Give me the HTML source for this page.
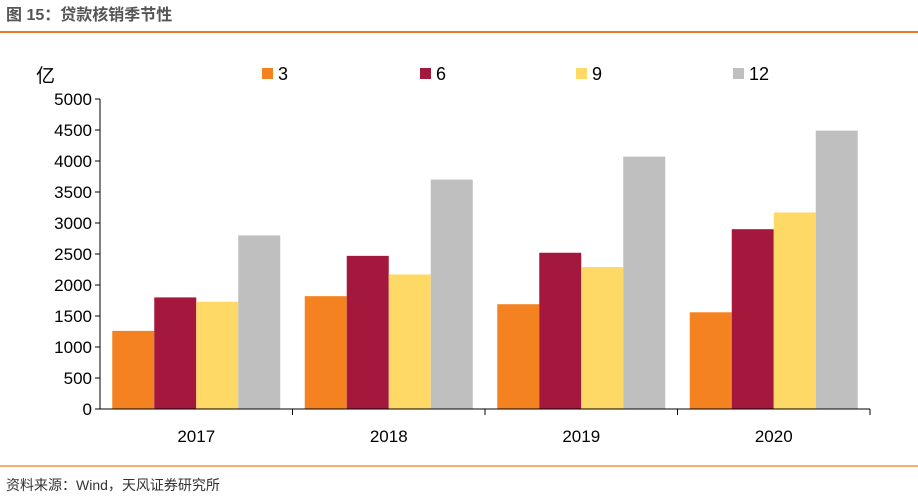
<!DOCTYPE html>
<html><head><meta charset="utf-8"><style>
body{margin:0;background:#fff;width:918px;height:496px;overflow:hidden;font-family:"Liberation Sans","Noto Sans CJK SC",sans-serif}
</style></head><body>
<svg id="c" width="918" height="496" xmlns="http://www.w3.org/2000/svg">
<text x="6" y="20" font-size="16" font-weight="bold" fill="#555" font-family="Liberation Sans, Noto Sans CJK SC, sans-serif">图 15：贷款核销季节性</text>
<line x1="0" y1="32" x2="918" y2="32" stroke="#E87722" stroke-width="2"/>
<line x1="0" y1="466" x2="918" y2="466" stroke="#F0963C" stroke-width="1.5"/>
<text x="6" y="490" font-size="14" fill="#333" font-family="Liberation Sans, Noto Sans CJK SC, sans-serif">资料来源：Wind，天风证券研究所</text>
<text x="36" y="82" font-size="19" fill="#000" font-family="Liberation Sans, Noto Sans CJK SC, sans-serif">亿</text>
<g id="g"></g>
</svg>
<script>
const categories=["2017","2018","2019","2020"];
const seriesNames=["3","6","9","12"];
const s3=[1260,1820,1690,1560];
const s6=[1800,2470,2520,2900];
const s9=[1730,2170,2290,3170];
const s12=[2800,3700,4070,4490];
const yTicks=[0,500,1000,1500,2000,2500,3000,3500,4000,4500,5000];
const colors=["#F58220","#A3183C","#FFD966","#BFBFBF"];
const NS="http://www.w3.org/2000/svg";
const g=document.getElementById('g');
const x0=100,x1=870,yTop=99,yBot=409,yMax=5000;
const y=v=>yBot-(v/yMax)*(yBot-yTop);
const gw=(x1-x0)/categories.length;
function mk(t,a){const e=document.createElementNS(NS,t);for(const k in a)e.setAttribute(k,a[k]);g.appendChild(e);return e;}
yTicks.forEach(v=>{
 const l=mk('line',{x1:x0-5,x2:x0,y1:y(v),y2:y(v),stroke:'#000'});
 
 
 const t=mk('text',{x:x0-8,y:y(v)+6,'text-anchor':'end','font-size':17});
 t.textContent=v;
 
 
});
const series=[s3,s6,s9,s12];
const bw=42;
categories.forEach((c,i)=>{
 const gx=x0+i*gw+gw/2-bw*2;
 series.forEach((s,j)=>{
  const r=mk('rect',{x:gx+j*bw,y:y(s[i]),width:bw,height:yBot-y(s[i]),fill:colors[j]});
  
  
 });
 const t=mk('text',{x:x0+i*gw+gw/2,y:442,'text-anchor':'middle','font-size':17});
 t.textContent=c;
 
 
 const tk=mk('line',{x1:x0+(i+1)*gw,x2:x0+(i+1)*gw,y1:yBot,y2:yBot+6,stroke:'#000'});
 
 
});
const ya=mk('line',{x1:x0,x2:x0,y1:yTop,y2:yBot,stroke:'#000'});


const xa=mk('line',{x1:x0,x2:x1,y1:yBot,y2:yBot,stroke:'#000'});


const lx=[262,420,576,733];
seriesNames.forEach((n,j)=>{
 const r=mk('rect',{x:lx[j],y:68,width:11,height:11,fill:colors[j]});
 
 
 const t=mk('text',{x:lx[j]+16,y:80,'font-size':18});
 t.textContent=n;
 
 
});
</script>
</body></html>
